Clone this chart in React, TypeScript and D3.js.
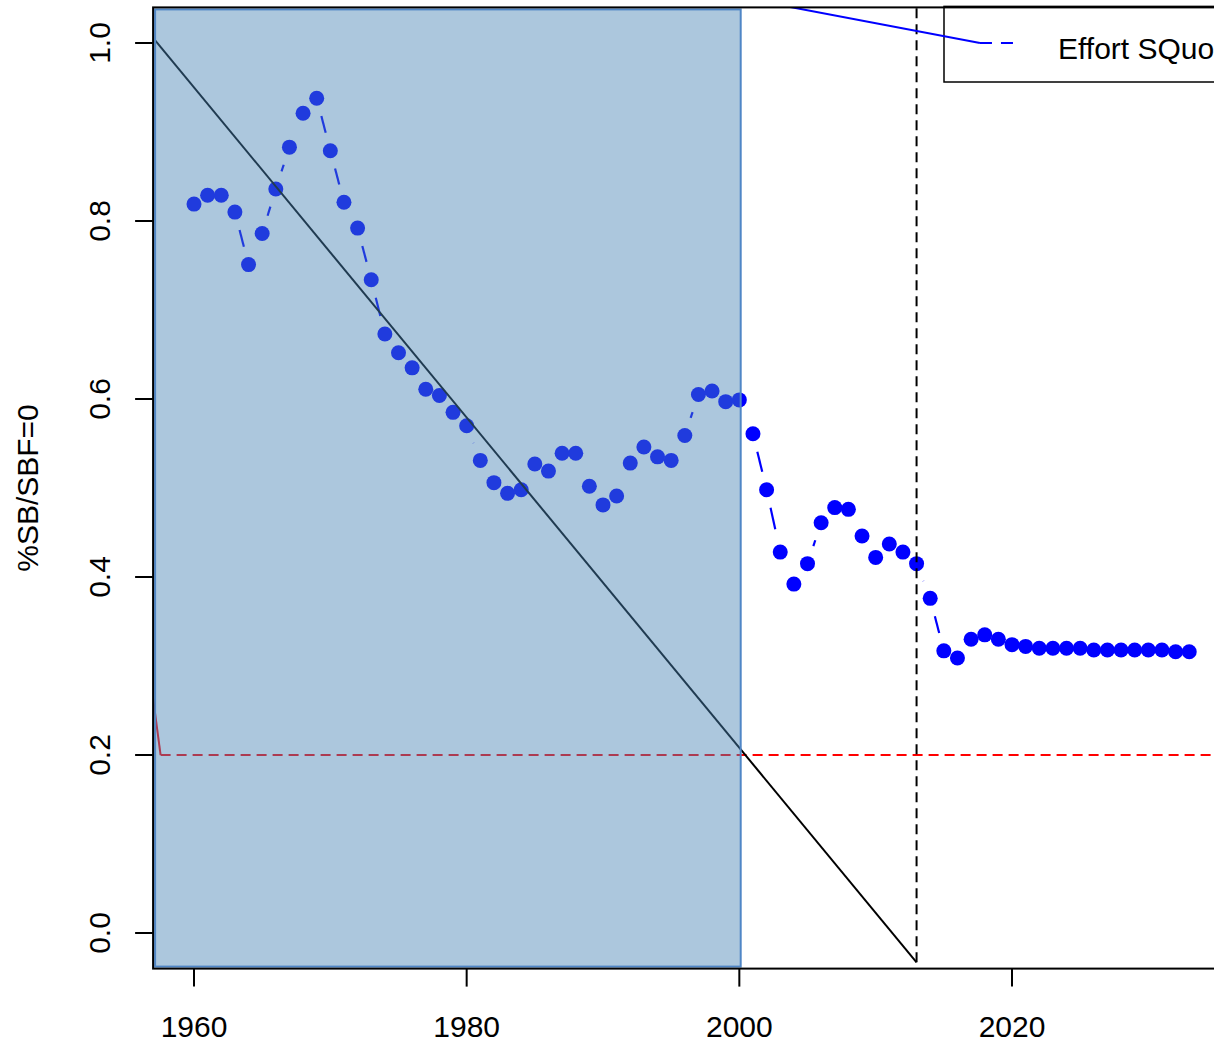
import * as d3 from 'd3';

// stock status (%SB/SBF=0)
const years = d3.range(1960, 2034);
const ratio = [
  0.819, 0.829, 0.829, 0.810, 0.751, 0.786, 0.836, 0.883, 0.921, 0.938,
  0.879, 0.821, 0.792, 0.734, 0.673, 0.652, 0.635, 0.611, 0.604, 0.585,
  0.570, 0.531, 0.506, 0.494, 0.498, 0.527, 0.519, 0.539, 0.539, 0.502,
  0.481, 0.491, 0.528, 0.546, 0.535, 0.531, 0.559, 0.605, 0.609, 0.597,
  0.599, 0.561, 0.498, 0.428, 0.392, 0.415, 0.461, 0.478, 0.476, 0.446,
  0.422, 0.437, 0.428, 0.415, 0.376, 0.317, 0.309, 0.330, 0.335, 0.330,
  0.324, 0.322, 0.320, 0.320, 0.320, 0.320, 0.318, 0.318, 0.318, 0.318,
  0.318, 0.318, 0.316, 0.316,
];

const xTicks = [1960, 1980, 2000, 2020];
const yTicks = [0, 0.2, 0.4, 0.6, 0.8, 1.0];
const xLim: [number, number] = [1957, 2036];
const yLim: [number, number] = [-0.04, 1.04];

const shadeYears: [number, number] = [1957, 2000.1];
const refLevel = 0.2;
const refStub: [number, number][] = [[1956.9, 0.275], [1957.55, 0.2]];
const trendLine: [number, number][] = [[1957.15, 1.003], [2013, -0.033]];
const lastYear = 2013;
const legendLink: [number, number][] = [[2003.2, 1.042], [2017.65, 1.0]];
const legendLabel = 'Effort SQuo';

const W = 1214;
const H = 1043;
const font = '"Liberation Sans", Arial, sans-serif';

export default function App() {
  const x = d3.scaleLinear().domain([1960, 2020]).range([194, 1012]);
  const y = d3.scaleLinear().domain([0, 1]).range([933, 43]);

  const left = x(xLim[0]);
  const right = x(xLim[1]);
  const top = y(yLim[1]);
  const bottom = y(yLim[0]);

  const pts = years.map((yr, i) => ({ px: x(yr), py: y(ratio[i]) }));

  // type="b": each segment drawn on its own with a gap round the points
  const gap = 18.5;
  const segs = pts.slice(1).map((p, i) => {
    const a = pts[i];
    const dx = p.px - a.px;
    const dy = p.py - a.py;
    const d = Math.hypot(dx, dy);
    if (d <= 2 * gap) return null;
    const ux = dx / d;
    const uy = dy / d;
    return {
      x1: a.px + ux * gap, y1: a.py + uy * gap,
      x2: p.px - ux * gap, y2: p.py - uy * gap,
    };
  }).filter(Boolean) as { x1: number; y1: number; x2: number; y2: number }[];

  const line = d3.line<[number, number]>().x((d) => x(d[0])).y((d) => y(d[1]));

  const legX = 944;
  const legY = top - 1;

  return (
    <>
      <style>{'body{margin:0}'}</style>
      <svg width={W} height={H} style={{ display: 'block' }} fontFamily={font}>
        <rect width={W} height={H} fill="#fff" />
        <defs>
          <clipPath id="plot">
            <rect x={left} y={top} width={right - left} height={bottom - top} />
          </clipPath>
        </defs>

        <g clipPath="url(#plot)">
          {segs.map((s, i) => (
            <line key={i} {...s} stroke="#0000ff" strokeWidth={2.2} strokeDasharray="22 12" />
          ))}
          {pts.map((p, i) => (
            <circle key={i} cx={p.px} cy={p.py} r={7.5} fill="#0000ff" />
          ))}

          <path d={line(refStub) ?? ''} fill="none" stroke="#ff0000" strokeWidth={2} />
          <line x1={x(refStub[1][0])} x2={right} y1={y(refLevel)} y2={y(refLevel)}
            stroke="#ff0000" strokeWidth={2} strokeDasharray="10 6" />

          <path d={line(trendLine) ?? ''} fill="none" stroke="#000" strokeWidth={2} />
          <line x1={x(lastYear)} x2={x(lastYear)} y1={y(trendLine[1][1])} y2={top}
            stroke="#000" strokeWidth={2} strokeDasharray="10 6" />

          <rect x={x(shadeYears[0]) + 2} y={top + 2}
            width={x(shadeYears[1]) - x(shadeYears[0]) - 2} height={bottom - top - 4}
            fill="steelblue" fillOpacity={0.45} stroke="#4f86c6" strokeWidth={2} />
        </g>

        {/* legend */}
        <rect x={legX} y={legY} width={320} height={82 - legY} fill="#fff" stroke="#000" strokeWidth={1.5} />
        <line x1={x(legendLink[1][0])} x2={x(legendLink[1][0]) + 33} y1={y(1)} y2={y(1)}
          stroke="#0000ff" strokeWidth={2} strokeDasharray="12 9" />
        <text x={1058} y={59} fontSize={30} fill="#000">{legendLabel}</text>
        <path d={line(legendLink) ?? ''} fill="none" stroke="#0000ff" strokeWidth={2}
          clipPath="url(#plot)" />

        {/* box */}
        <rect x={left} y={top} width={right - left} height={bottom - top}
          fill="none" stroke="#000" strokeWidth={2} />

        {/* x axis */}
        {xTicks.map((t) => (
          <g key={t}>
            <line x1={x(t)} x2={x(t)} y1={bottom} y2={bottom + 18} stroke="#000" strokeWidth={2} />
            <text x={x(t)} y={1037} textAnchor="middle" fontSize={30}>{t}</text>
          </g>
        ))}

        {/* y axis */}
        {yTicks.map((t) => (
          <g key={t}>
            <line x1={left - 18} x2={left} y1={y(t)} y2={y(t)} stroke="#000" strokeWidth={2} />
            <text transform={`translate(110,${y(t)}) rotate(-90)`} textAnchor="middle" fontSize={30}>
              {t.toFixed(1)}
            </text>
          </g>
        ))}
        <text transform={`translate(38,${(top + bottom) / 2}) rotate(-90)`} textAnchor="middle" fontSize={30}>
          %SB/SBF=0
        </text>
      </svg>
    </>
  );
}
